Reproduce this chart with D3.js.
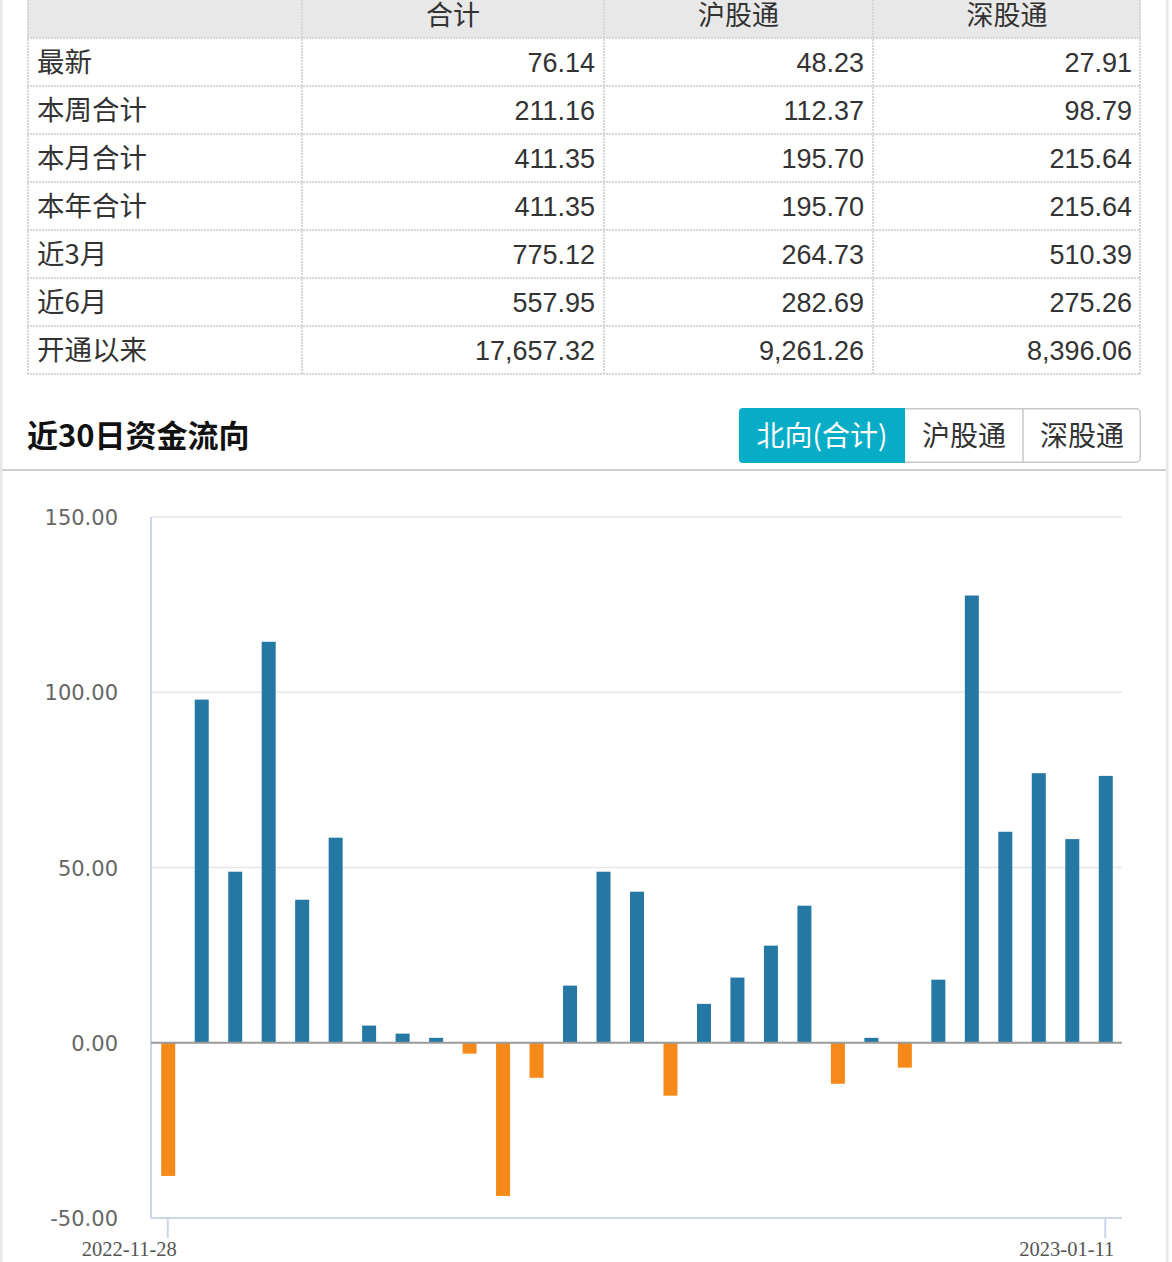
<!DOCTYPE html>
<html>
<head>
<meta charset="utf-8">
<script src="https://cdn.jsdelivr.net/npm/d3@7"></script>
<style>
  body { margin: 0; background: #fff; }
  svg { display: block; }
</style>
</head>
<body>
<div id="page"></div>
<script>
// summary table
var columns = ["合计", "沪股通", "深股通"]
var rowNames = ["最新", "本周合计", "本月合计", "本年合计", "近3月", "近6月", "开通以来"]
var totalVals = ["76.14", "211.16", "411.35", "411.35", "775.12", "557.95", "17,657.32"]
var shVals = ["48.23", "112.37", "195.70", "195.70", "264.73", "282.69", "9,261.26"]
var szVals = ["27.91", "98.79", "215.64", "215.64", "510.39", "275.26", "8,396.06"]

// 30 day flow (northbound total)
var dates = ["2022-11-28", "2022-11-29", "2022-11-30", "2022-12-01", "2022-12-02",
  "2022-12-05", "2022-12-06", "2022-12-07", "2022-12-08", "2022-12-09",
  "2022-12-12", "2022-12-13", "2022-12-14", "2022-12-15", "2022-12-16",
  "2022-12-19", "2022-12-20", "2022-12-21", "2022-12-22", "2022-12-23",
  "2022-12-28", "2022-12-29", "2023-01-03", "2023-01-04", "2023-01-05",
  "2023-01-06", "2023-01-09", "2023-01-10", "2023-01-11"]
var flows = [-38.0, 97.9, 48.8, 114.4, 40.8, 58.5, 4.9, 2.6, 1.4, -3.1,
  -43.7, -10.0, 16.3, 48.8, 43.1, -15.1, 11.1, 18.6, 27.7, 39.1,
  -11.7, 1.4, -7.1, 18.0, 127.6, 60.2, 76.9, 58.1, 76.14]
var yTicks = [-50, 0, 50, 100, 150]
var tabs = ["北向(合计)", "沪股通", "深股通"]

var W = 1172, H = 1262
var svg = d3.select("#page").append("svg")
  .attr("width", W).attr("height", H)

var cjk = "'Noto Sans CJK SC', 'Liberation Sans', sans-serif"
var num = "'Liberation Sans', Arial, sans-serif"

// page frame
svg.append("rect").attr("x", 0).attr("y", 0).attr("width", 2.5).attr("height", H).attr("fill", "#e8e8e8")
svg.append("rect").attr("x", 1166).attr("y", 0).attr("width", 2.5).attr("height", H).attr("fill", "#e8e8e8")

// ---- table ----
var colX = [27, 302, 604, 873, 1141]
var headH = 38, rowH = 48
var tbl = svg.append("g")

tbl.append("rect").attr("x", colX[0]).attr("y", 0)
  .attr("width", colX[4] - colX[0]).attr("height", headH).attr("fill", "#e8e8e8")

var tableBottom = headH + rowH * rowNames.length
var dotted = function(x1, y1, x2, y2) {
  tbl.append("line").attr("x1", x1).attr("y1", y1).attr("x2", x2).attr("y2", y2)
    .attr("stroke", "#d6d6d6").attr("stroke-width", 2).attr("stroke-dasharray", "2,1")
}
for (var r = 0; r <= rowNames.length; r++) {
  dotted(colX[0], headH + r * rowH, colX[4], headH + r * rowH)
}
colX.forEach(function(x, i) {
  var xx = i == 0 ? x + 1 : (i == 4 ? x - 1 : x)
  dotted(xx, 0, xx, tableBottom)
})

tbl.selectAll(".head").data(columns).enter().append("text")
  .attr("x", function(d, i) { return (colX[i + 1] + colX[i + 2]) / 2 })
  .attr("y", 25)
  .attr("text-anchor", "middle")
  .attr("font-family", cjk).attr("font-size", 27).attr("fill", "#333")
  .text(function(d) { return d })

var series = [totalVals, shVals, szVals]
rowNames.forEach(function(name, r) {
  var base = headH + r * rowH + 34
  tbl.append("text").attr("x", 37).attr("y", base)
    .attr("font-family", cjk).attr("font-size", 27.5).attr("fill", "#333").text(name)
  series.forEach(function(vals, c) {
    tbl.append("text").attr("x", colX[c + 2] - 9).attr("y", base)
      .attr("text-anchor", "end")
      .attr("font-family", num).attr("font-size", 27).attr("fill", "#333").text(vals[r])
  })
})

// ---- title + tabs ----
svg.append("text").attr("x", 27).attr("y", 447)
  .attr("font-family", cjk).attr("font-size", 31).attr("font-weight", "bold")
  .attr("fill", "#111").text("近30日资金流向")

svg.append("rect").attr("x", 2).attr("y", 469).attr("width", 1164).attr("height", 2).attr("fill", "#cfcfcf")

var tabX = [739, 905, 1023, 1141]
var tabTop = 408, tabH = 55
svg.append("rect").attr("x", tabX[0] + 0.75).attr("y", tabTop + 0.75)
  .attr("width", tabX[3] - tabX[0] - 1.5).attr("height", tabH - 1.5)
  .attr("rx", 4).attr("fill", "#fff").attr("stroke", "#c8c8c8").attr("stroke-width", 1.5)
svg.append("path")
  .attr("d", "M" + (tabX[0] + 4) + "," + tabTop + "H" + tabX[1] + "V" + (tabTop + tabH) +
    "H" + (tabX[0] + 4) + "Q" + tabX[0] + "," + (tabTop + tabH) + " " + tabX[0] + "," + (tabTop + tabH - 4) +
    "V" + (tabTop + 4) + "Q" + tabX[0] + "," + tabTop + " " + (tabX[0] + 4) + "," + tabTop + "Z")
  .attr("fill", "#07adc7")
svg.append("line").attr("x1", tabX[2]).attr("x2", tabX[2]).attr("y1", tabTop).attr("y2", tabTop + tabH)
  .attr("stroke", "#c8c8c8").attr("stroke-width", 1.5)
svg.selectAll(".tab").data(tabs).enter().append("text")
  .attr("x", function(d, i) { return (tabX[i] + tabX[i + 1]) / 2 })
  .attr("y", 446)
  .attr("text-anchor", "middle")
  .attr("font-family", cjk).attr("font-size", 28)
  .attr("fill", function(d, i) { return i == 0 ? "#fff" : "#333" })
  .text(function(d) { return d })

// ---- chart ----
var plotL = 151, plotR = 1122, plotT = 517, plotB = 1218
var xc = d3.scaleBand().domain(dates).range([plotL, plotR])
var y = d3.scaleLinear().domain([-50, 150]).range([plotB, plotT])

var g = svg.append("g")
g.selectAll(".grid").data(yTicks.filter(function(t) { return t != -50 && t != 0 })).enter().append("line")
  .attr("x1", plotL).attr("x2", plotR)
  .attr("y1", function(d) { return y(d) }).attr("y2", function(d) { return y(d) })
  .attr("stroke", "#e6e6e6").attr("stroke-width", 1.5)

var yAxis = d3.axisLeft(y).tickValues(yTicks).tickSize(0)
  .tickFormat(function(d) { return d3.format(".2f")(d).replace("−", "-") })
var ya = g.append("g").attr("transform", "translate(121,0)").call(yAxis)
ya.select(".domain").remove()
ya.selectAll("text").attr("font-family", "'DejaVu Sans', sans-serif").attr("font-size", 21)
  .attr("fill", "#666").attr("dx", 0).attr("dy", "0.36em")

g.append("line").attr("x1", plotL).attr("x2", plotL).attr("y1", plotT).attr("y2", plotB)
  .attr("stroke", "#ccd6eb").attr("stroke-width", 2)

g.selectAll(".bar").data(flows).enter().append("rect")
  .attr("x", function(d, i) { return xc(dates[i]) + xc.bandwidth() / 2 - 6.5 })
  .attr("width", 14)
  .attr("y", function(d) { return y(Math.max(0, d)) })
  .attr("height", function(d) { return Math.abs(y(d) - y(0)) })
  .attr("fill", function(d) { return d >= 0 ? "#2577a4" : "#f5891a" })

g.append("line").attr("x1", plotL).attr("x2", plotR).attr("y1", y(0)).attr("y2", y(0))
  .attr("stroke", "#9a9a9a").attr("stroke-width", 2)

// bottom axis with first and last date
var xLabels = [dates[0], dates[dates.length - 1]]
var xAxis = d3.axisBottom(xc).tickValues(xLabels).tickSize(20).tickPadding(4)
var xa = g.append("g").attr("transform", "translate(0," + plotB + ")").call(xAxis)
xa.select(".domain").attr("d", "M" + plotL + ",0H" + plotR).attr("stroke", "#ccd6eb").attr("stroke-width", 2)
xa.selectAll(".tick line").attr("stroke", "#ccd6eb").attr("stroke-width", 2)
xa.selectAll(".tick text").attr("font-family", "'Liberation Serif', serif").attr("font-size", 20.5)
  .attr("fill", "#555").attr("text-anchor", "end").attr("dx", 9).attr("y", 38).attr("dy", 0)
</script>
</body>
</html>
